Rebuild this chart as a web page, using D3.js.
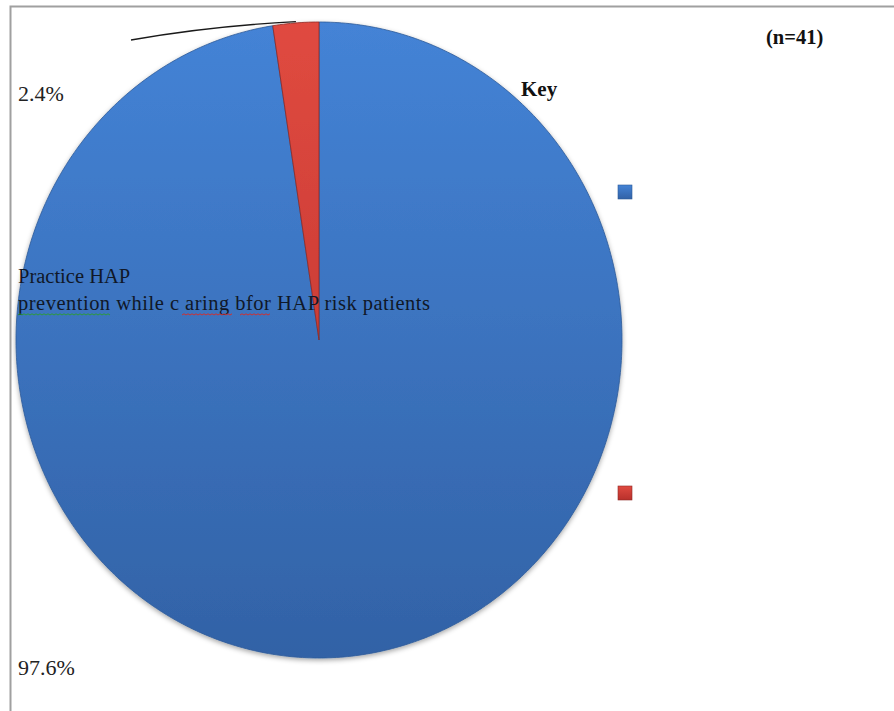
<!DOCTYPE html>
<html>
<head>
<meta charset="utf-8">
<script src="https://cdn.jsdelivr.net/npm/d3@7"></script>
<style>
  html, body { margin: 0; padding: 0; background: #ffffff; }
  svg { display: block; }
</style>
</head>
<body>
<svg id="chart" width="894" height="711"></svg>
<script>
// ---- data ----
const categories = ["Practice", "Do not practice"];
const counts = [40, 1];
const percentLabels = ["97.6%", "2.4%"];
const colorsTop = ["#4483d6", "#e04a40"];
const colorsBottom = ["#3262a6", "#b8302b"];
const sampleLabel = "(n=41)";
const keyLabel = "Key";
const noteLines = ["Practice HAP", "prevention while c aring bfor HAP risk patients"];

// ---- layout ----
const W = 894, H = 711;
const cx = 319, cy = 340, rx = 303, ry = 318;
const svg = d3.select("#chart");

const defs = svg.append("defs");
categories.forEach((c, i) => {
  const g = defs.append("linearGradient").attr("id", "grad" + i)
    .attr("gradientUnits", "userSpaceOnUse")
    .attr("x1", 0).attr("y1", cy - ry).attr("x2", 0).attr("y2", cy + ry);
  g.append("stop").attr("offset", "0%").attr("stop-color", colorsTop[i]);
  g.append("stop").attr("offset", "100%").attr("stop-color", colorsBottom[i]);
  const s = defs.append("linearGradient").attr("id", "sq" + i)
    .attr("x1", 0).attr("y1", 0).attr("x2", 0).attr("y2", 1);
  s.append("stop").attr("offset", "0%").attr("stop-color", colorsTop[i]);
  s.append("stop").attr("offset", "100%").attr("stop-color", colorsBottom[i]);
});
const f = defs.append("filter").attr("id", "shadow")
  .attr("x", "-5%").attr("y", "-5%").attr("width", "110%").attr("height", "110%");
f.append("feDropShadow").attr("dx", 0).attr("dy", 2).attr("stdDeviation", 2.5)
  .attr("flood-color", "#000").attr("flood-opacity", 0.35);

// frame
svg.append("path")
  .attr("d", `M10.5,${H + 5} L10.5,6.5 L${W + 5},6.5`)
  .attr("fill", "none").attr("stroke", "#a0a0a0").attr("stroke-width", 2);

// pie (ellipse: arcs built on a unit radius and mapped to x/y radii)
const pie = d3.pie().sort(null).value(d => d).startAngle(0).endAngle(2 * Math.PI);
const arcs = pie(counts);
const arc = d3.arc().innerRadius(0).outerRadius(1);
const sx = d3.scaleLinear().domain([-1, 1]).range([cx - rx, cx + rx]);
const sy = d3.scaleLinear().domain([-1, 1]).range([cy - ry, cy + ry]);

function ellipsePath(d) {
  // sample the unit arc and map through scales
  const n = Math.max(8, Math.ceil((d.endAngle - d.startAngle) * 80));
  const pts = [[sx(0), sy(0)]];
  for (let k = 0; k <= n; k++) {
    const a = d.startAngle + (d.endAngle - d.startAngle) * k / n;
    pts.push([sx(Math.sin(a)), sy(-Math.cos(a))]);
  }
  return d3.line()(pts) + "Z";
}

const pieG = svg.append("g").attr("filter", "url(#shadow)");
pieG.selectAll("path.slice")
  .data(arcs)
  .join("path")
  .attr("class", "slice")
  .attr("d", ellipsePath)
  .attr("fill", (d, i) => `url(#grad${i})`)
  .attr("stroke", (d, i) => i === 0 ? "#2d5a98" : "#8e2a26")
  .attr("stroke-width", 0.8)
  .attr("stroke-linejoin", "round");

// leader line for the small slice
const red = arcs[1];
const mid = (red.startAngle + red.endAngle) / 2;
const ex = sx(Math.sin(mid) * 0.995), ey = sy(-Math.cos(mid) * 1.004);
svg.append("path")
  .attr("d", `M131,40 Q210,26 ${ex},${ey}`)
  .attr("fill", "none").attr("stroke", "#1a1a1a").attr("stroke-width", 1.3);

// percent labels
const serif = "'Liberation Serif', 'Times New Roman', serif";
svg.append("text").attr("x", 18).attr("y", 101)
  .attr("font-family", serif).attr("font-size", 22).attr("fill", "#222")
  .text(percentLabels[1]);
svg.append("text").attr("x", 18).attr("y", 675)
  .attr("font-family", serif).attr("font-size", 22).attr("fill", "#222")
  .text(percentLabels[0]);

// note text
const note = svg.append("text").attr("font-family", serif).attr("font-size", 20.5).attr("fill", "#101828");
note.append("tspan").attr("x", 18).attr("y", 283).text(noteLines[0]);
note.append("tspan").attr("x", 18).attr("y", 310)
  .attr("textLength", 412).attr("lengthAdjust", "spacing").text(noteLines[1]);

// spell-check squiggles
function squiggle(x0, x1, y, color) {
  let d = `M${x0},${y}`;
  let up = true;
  for (let x = x0 + 2; x <= x1; x += 2) { d += ` L${x},${y + (up ? -1.2 : 0)}`; up = !up; }
  svg.append("path").attr("d", d).attr("fill", "none").attr("stroke", color).attr("stroke-width", 1);
}
squiggle(18, 110, 315, "#2e9a3a");
squiggle(182, 232, 315, "#d03030");
squiggle(240, 270, 315, "#d03030");

// key & n
svg.append("text").attr("x", 521).attr("y", 96)
  .attr("font-family", serif).attr("font-size", 21).attr("font-weight", "bold").attr("fill", "#111")
  .text(keyLabel);
svg.append("text").attr("x", 766).attr("y", 44)
  .attr("font-family", serif).attr("font-size", 20.5).attr("font-weight", "bold").attr("fill", "#111")
  .text(sampleLabel);

// legend markers
const legendY = d3.scalePoint().domain(categories).range([185, 486]);
svg.selectAll("rect.key")
  .data(categories)
  .join("rect")
  .attr("class", "key")
  .attr("x", 618).attr("y", d => legendY(d))
  .attr("width", 14).attr("height", 14)
  .attr("fill", (d, i) => `url(#sq${i})`)
  .attr("stroke", (d, i) => i === 0 ? "#2d5a98" : "#8e2a26")
  .attr("stroke-width", 0.6);
</script>
</body>
</html>
